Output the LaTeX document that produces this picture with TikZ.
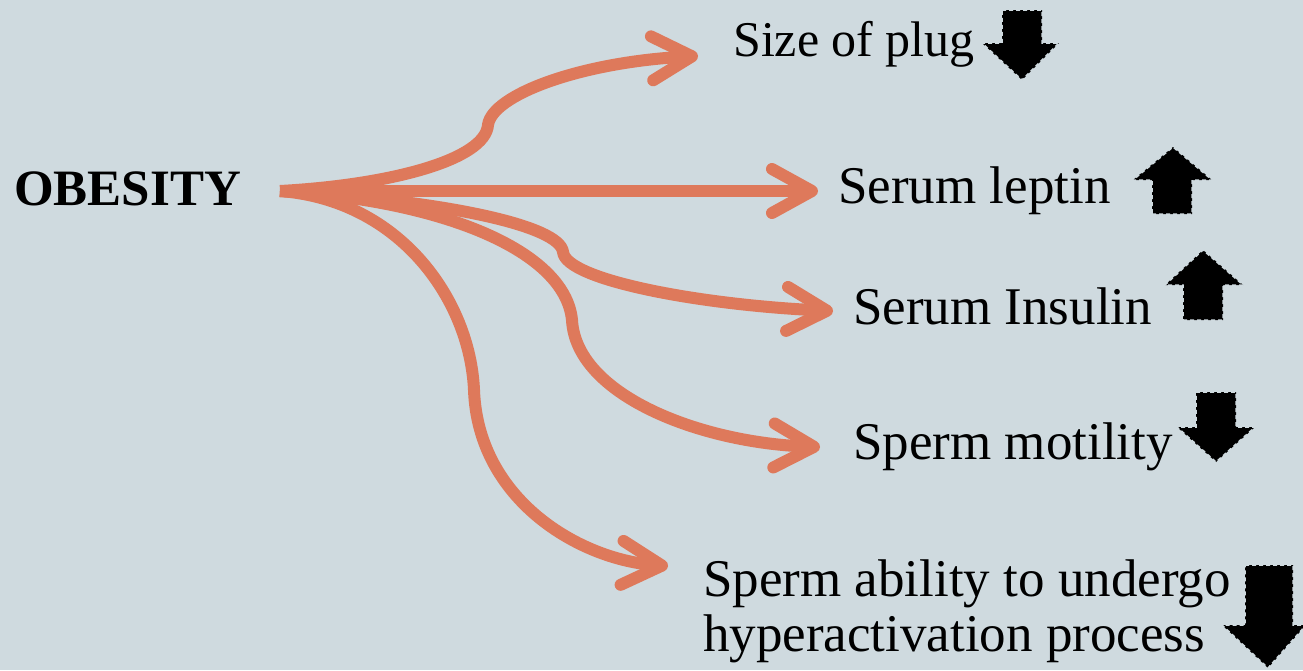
\documentclass[tikz,border=0pt]{standalone}
\usepackage{fontspec}
\setmainfont{Liberation Serif}
\usetikzlibrary{arrows.meta}
\definecolor{bg}{RGB}{207,218,223}
\definecolor{org}{RGB}{222,121,91}
\begin{document}
\begin{tikzpicture}[x=1pt,y=-1pt,
  conn/.style={draw=org, line width=12pt, -{Straight Barb[length=40pt,width=44pt,round]}},
  lbl/.style={anchor=base west, inner sep=0pt, font=\fontsize{53}{60}\selectfont},
  blk/.style={fill=black, draw=bg, line width=1.5pt, dash pattern=on 4pt off 3pt}]
\fill[bg] (0,0) rectangle (1303,670);
\useasboundingbox (0,0) rectangle (1303,670);

% labels
\node[lbl, font=\fontsize{51}{60}\selectfont\bfseries] (ob) at (14,205) {OBESITY};
\node[lbl, font=\fontsize{50}{60}\selectfont] (plug) at (733,56) {Size of plug};
\node[lbl] (lep) at (838,203) {Serum leptin};
\node[lbl] (ins) at (853,324) {Serum Insulin};
\node[lbl] (mot) at (853,459) {Sperm motility};
\node[lbl] (abl1) at (703,596) {Sperm ability to undergo};
\node[lbl] (abl2) at (703,651) {hyperactivation process};

% connector ends
\coordinate (src) at (280,191);
\coordinate (tplug) at (698,56);
\coordinate (tlep) at (818,191);
\coordinate (tins) at (833,311);
\coordinate (tmot) at (820,447);
\coordinate (tabl) at (668,566);

% connectors
\draw[conn] (src) .. controls (390,185) and (485,160) .. (488,125)
  .. controls (492,95) and (580,62) .. (tplug);
\draw[conn] (src) -- (tlep);
\draw[conn] (src) .. controls (440,200) and (560,225) .. (563,252)
  .. controls (566,280) and (700,305) .. (tins);
\draw[conn] (src) .. controls (440,200) and (565,250) .. (572,320)
  .. controls (576,395) and (700,443) .. (tmot);
\draw[conn] (src) .. controls (400,200) and (470,300) .. (474,390)
  .. controls (478,500) and (580,560) .. (tabl);

% block arrows
\filldraw[blk] (1002,10) -- (1042,10) -- (1042,43) -- (1059,43) -- (1022,80) -- (982,43) -- (1002,43) -- cycle;
\filldraw[blk] (1152,214) -- (1192,214) -- (1192,180) -- (1212,180) -- (1173,147) -- (1133,180) -- (1152,180) -- cycle;
\filldraw[blk] (1183,320) -- (1223,320) -- (1223,285) -- (1243,285) -- (1203,250) -- (1165,285) -- (1183,285) -- cycle;
\filldraw[blk] (1196,392) -- (1236,392) -- (1236,427) -- (1255,427) -- (1216,462) -- (1177,427) -- (1196,427) -- cycle;
\filldraw[blk] (1245,565) -- (1293,565) -- (1293,625) -- (1306,625) -- (1268,668) -- (1222,625) -- (1245,625) -- cycle;
\end{tikzpicture}
\end{document}
